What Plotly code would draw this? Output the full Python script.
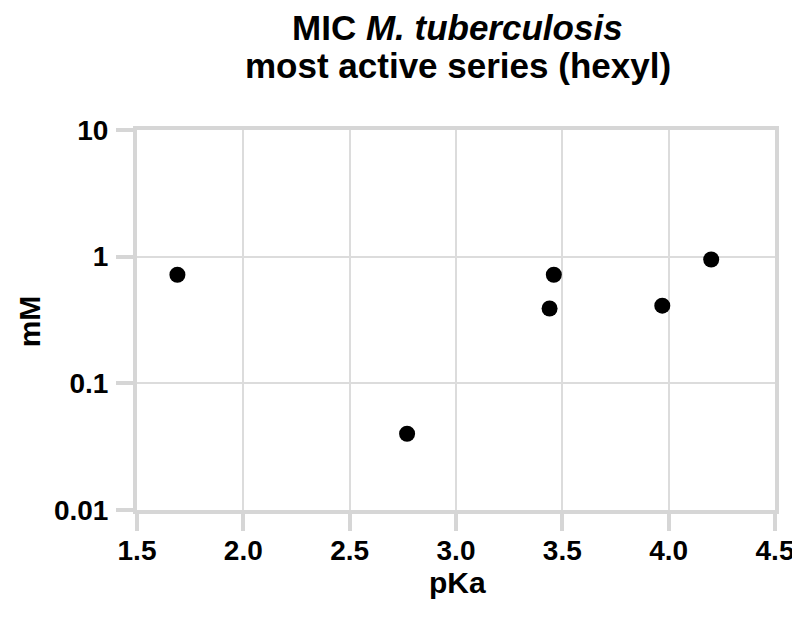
import plotly.graph_objects as go

pka = [1.69, 2.77, 3.44, 3.46, 3.97, 4.20]
mic_mM = [0.72, 0.040, 0.39, 0.72, 0.41, 0.95]

x_ticks = [1.5, 2.0, 2.5, 3.0, 3.5, 4.0, 4.5]
x_ticklabels = ["1.5", "2.0", "2.5", "3.0", "3.5", "4.0", "4.5"]
y_ticks = [0.01, 0.1, 1, 10]
y_ticklabels = ["0.01", "0.1", "1", "10"]

FONT = "Liberation Sans, Arial, sans-serif"
AX = "#d6d6d6"

fig = go.Figure()
fig.add_trace(go.Scatter(
    x=pka, y=mic_mM, mode="markers",
    marker=dict(size=16, color="black"),
    showlegend=False,
))

fig.update_layout(
    width=800, height=617,
    paper_bgcolor="white", plot_bgcolor="white",
    margin=dict(l=129, r=33, t=122, b=115, autoexpand=False),
    font=dict(family=FONT, color="black"),
)

ann_font = dict(family=FONT, color="black")
fig.add_annotation(text="<b>MIC <i>M. tuberculosis</i></b>", xref="paper", yref="paper",
                   x=0.503, y=1.271, xanchor="center", yanchor="middle", showarrow=False,
                   font=dict(size=35, **ann_font))
fig.add_annotation(text="<b>most active series (hexyl)</b>", xref="paper", yref="paper",
                   x=0.503, y=1.171, xanchor="center", yanchor="middle", showarrow=False,
                   font=dict(size=35, **ann_font))
fig.add_annotation(text="<b>pKa</b>", xref="paper", yref="paper",
                   x=0.503, y=-0.19, xanchor="center", yanchor="middle", showarrow=False,
                   font=dict(size=30, **ann_font))
fig.add_annotation(text="<b>mM</b>", xref="paper", yref="paper", textangle=-90,
                   x=-0.169, y=0.497, xanchor="center", yanchor="middle", showarrow=False,
                   font=dict(size=30, **ann_font))

common = dict(
    showline=True, linecolor=AX, linewidth=4, mirror=True,
    ticks="outside", ticklen=17, tickwidth=4, tickcolor=AX,
    showgrid=True, gridcolor="#dcdcdc", gridwidth=2,
    tickfont=dict(size=28, family=FONT, color="black"),
    zeroline=False, automargin=False,
)
fig.update_xaxes(range=[1.5, 4.5], tickvals=x_ticks, ticklabelstandoff=-5,
                 ticktext=[f"<b>{t}</b>" for t in x_ticklabels], **common)
fig.update_yaxes(type="log", range=[-2, 1], tickvals=y_ticks, ticklabelstandoff=2,
                 ticktext=[f"<b>{t}</b>" for t in y_ticklabels], **common)

fig.write_html("out.html")
